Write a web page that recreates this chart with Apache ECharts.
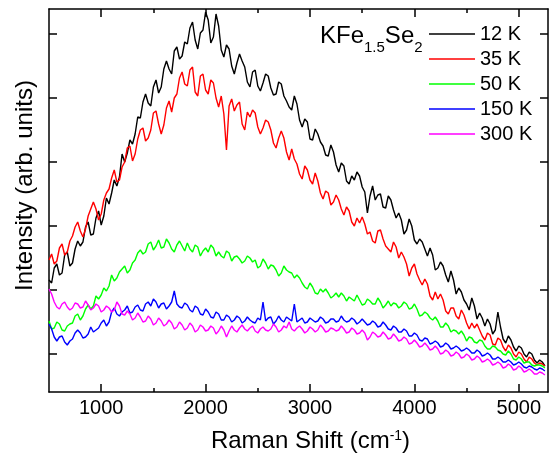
<!DOCTYPE html>
<html>
<head>
<meta charset="utf-8">
<script src="https://cdn.jsdelivr.net/npm/echarts@6/dist/echarts.min.js"></script>
<style>
  html, body { margin: 0; padding: 0; background: #fff; }
  #main { width: 550px; height: 453px; }
</style>
</head>
<body>
<div id="main"></div>
<script>
// Raman shift grid (cm-1)
const ramanShift = [
  500, 525, 550, 575, 600, 625, 650, 675, 700, 725,
  750, 775, 800, 825, 850, 875, 900, 925, 950, 975,
  1000, 1025, 1050, 1075, 1100, 1125, 1150, 1175, 1200, 1225,
  1250, 1275, 1300, 1325, 1350, 1375, 1400, 1425, 1450, 1475,
  1500, 1525, 1550, 1575, 1600, 1625, 1650, 1675, 1700, 1725,
  1750, 1775, 1800, 1825, 1850, 1875, 1900, 1925, 1950, 1975,
  2000, 2025, 2050, 2075, 2100, 2125, 2150, 2175, 2200, 2225,
  2250, 2275, 2300, 2325, 2350, 2375, 2400, 2425, 2450, 2475,
  2500, 2525, 2550, 2575, 2600, 2625, 2650, 2675, 2700, 2725,
  2750, 2775, 2800, 2825, 2850, 2875, 2900, 2925, 2950, 2975,
  3000, 3025, 3050, 3075, 3100, 3125, 3150, 3175, 3200, 3225,
  3250, 3275, 3300, 3325, 3350, 3375, 3400, 3425, 3450, 3475,
  3500, 3525, 3550, 3575, 3600, 3625, 3650, 3675, 3700, 3725,
  3750, 3775, 3800, 3825, 3850, 3875, 3900, 3925, 3950, 3975,
  4000, 4025, 4050, 4075, 4100, 4125, 4150, 4175, 4200, 4225,
  4250, 4275, 4300, 4325, 4350, 4375, 4400, 4425, 4450, 4475,
  4500, 4525, 4550, 4575, 4600, 4625, 4650, 4675, 4700, 4725,
  4750, 4775, 4800, 4825, 4850, 4875, 4900, 4925, 4950, 4975,
  5000, 5025, 5050, 5075, 5100, 5125, 5150, 5175, 5200, 5225,
  5250
];

// intensity (arb. units), one value per ramanShift entry
const k12 = [
  112, 109, 124, 128, 117, 119, 137, 140, 126, 129,
  143, 151, 146, 150, 165, 170, 157, 158, 174, 181,
  167, 176, 194, 188, 199, 212, 206, 215, 238, 230,
  239, 252, 248, 258, 275, 274, 290, 298, 289, 286,
  305, 312, 299, 305, 323, 331, 323, 318, 341, 345,
  333, 336, 350, 348, 364, 370, 352, 343, 359, 362,
  380, 372, 349, 355, 378, 366, 342, 335, 347, 343,
  326, 318, 329, 338, 331, 325, 310, 305, 320, 322,
  306, 301, 309, 318, 316, 304, 297, 298, 310, 308,
  296, 291, 285, 282, 296, 288, 272, 265, 273, 270,
  253, 252, 263, 258, 250, 246, 237, 236, 247, 240,
  227, 220, 229, 226, 211, 208, 216, 212, 220, 216,
  205, 200, 179, 196, 206, 192, 197, 198, 185, 184,
  196, 192, 182, 174, 179, 172, 158, 162, 173, 166,
  152, 148, 153, 150, 143, 136, 144, 137, 122, 124,
  130, 126, 117, 110, 121, 112, 98, 104, 100, 92,
  88, 82, 94, 86, 73, 79, 74, 66, 73, 68,
  58, 62, 80, 65, 53, 49, 56, 52, 45, 41,
  46, 44, 38, 35, 40, 38, 32, 29, 32, 30,
  26
];
const k35 = [
  132, 138, 128, 131, 144, 148, 137, 140, 151, 156,
  165, 170, 161, 155, 163, 176, 183, 190, 183, 172,
  178, 192, 199, 203, 214, 222, 210, 212, 225, 230,
  244, 246, 231, 238, 253, 262, 264, 251, 254, 262,
  279, 281, 268, 258, 267, 284, 291, 280, 294, 298,
  314, 320, 308, 306, 322, 325, 300, 296, 316, 318,
  302, 298, 312, 309, 294, 285, 296, 278, 242, 286,
  293, 281, 287, 290, 268, 262, 280, 275, 282, 279,
  265, 258, 264, 272, 270, 262, 249, 244, 254, 261,
  254, 240, 232, 243, 233, 228, 218, 213, 226, 222,
  212, 208, 219, 211, 199, 193, 201, 199, 187, 190,
  197, 192, 183, 177, 185, 181, 170, 166, 174, 169,
  175, 168, 158, 160, 151, 149, 161, 162, 153, 146,
  143, 140, 150, 145, 134, 140, 135, 128, 116, 124,
  128, 118, 112, 107, 113, 108, 96, 92, 100, 93,
  98, 92, 81, 78, 84, 84, 76, 73, 82, 77,
  69, 63, 69, 64, 68, 62, 56, 52, 59, 57,
  48, 47, 54, 52, 45, 41, 47, 44, 38, 35,
  40, 38, 33, 30, 35, 33, 29, 27, 29, 28,
  26
];
const k50 = [
  71, 63, 64, 70, 68, 62, 61, 66, 68, 69,
  76, 78, 72, 76, 83, 87, 83, 86, 96, 93,
  97, 104, 101, 106, 117, 111, 114, 120, 123, 126,
  119, 122, 129, 132, 139, 142, 138, 140, 148, 150,
  142, 146, 152, 144, 145, 153, 149, 143, 140, 147,
  151, 146, 141, 149, 143, 140, 147, 145, 136, 141,
  144, 140, 147, 144, 136, 140, 136, 134, 141, 139,
  131, 135, 136, 133, 129, 131, 136, 134, 130, 132,
  124, 126, 133, 129, 123, 127, 126, 122, 116, 119,
  126, 122, 120, 119, 114, 117, 114, 109, 105, 103,
  109, 105, 99, 98, 103, 100, 103, 99, 94, 96,
  99, 95, 99, 96, 91, 95, 93, 91, 97, 92,
  87, 88, 93, 91, 88, 88, 94, 90, 84, 87,
  91, 86, 89, 88, 84, 86, 90, 88, 83, 84,
  88, 83, 76, 77, 80, 78, 74, 72, 75, 71,
  65, 65, 69, 66, 60, 62, 61, 58, 61, 57,
  51, 55, 54, 50, 49, 52, 51, 46, 43, 43,
  46, 45, 42, 41, 38, 37, 41, 38, 33, 32,
  35, 33, 29, 30, 30, 27, 26, 27, 27, 26,
  24
];
const k150 = [
  68, 63, 55, 51, 55, 56, 50, 47, 51, 53,
  59, 62, 59, 54, 55, 58, 65, 60, 62, 64,
  69, 72, 66, 70, 80, 84, 78, 76, 80, 82,
  86, 79, 80, 85, 87, 82, 81, 88, 90, 86,
  93, 90, 84, 88, 89, 83, 86, 90, 101, 88,
  85, 84, 89, 87, 82, 80, 86, 84, 78, 77,
  83, 80, 75, 74, 80, 78, 72, 72, 77, 75,
  70, 72, 76, 74, 69, 71, 75, 72, 70, 69,
  74, 72, 90, 71, 74, 75, 68, 71, 76, 72,
  70, 75, 73, 71, 88, 70, 72, 74, 69, 70,
  74, 72, 70, 71, 75, 73, 69, 70, 73, 73,
  70, 71, 76, 72, 70, 71, 74, 72, 68, 70,
  73, 70, 67, 68, 71, 69, 65, 66, 70, 67,
  63, 62, 66, 64, 60, 60, 63, 61, 56, 56,
  59, 57, 52, 51, 54, 53, 48, 49, 51, 49,
  45, 46, 49, 47, 43, 44, 46, 44, 41, 42,
  44, 42, 39, 39, 42, 40, 36, 37, 39, 37,
  33, 33, 35, 33, 30, 30, 32, 30, 27, 28,
  30, 28, 25, 24, 26, 25, 23, 22, 24, 23,
  21
];
const k300 = [
  103, 98, 90, 85, 83, 88, 90, 85, 82, 84,
  89, 88, 84, 85, 91, 87, 82, 84, 88, 86,
  80, 82, 86, 84, 80, 82, 90, 86, 78, 77,
  81, 78, 72, 74, 79, 75, 70, 71, 76, 73,
  67, 69, 74, 71, 66, 68, 72, 69, 63, 65,
  70, 67, 62, 64, 69, 66, 60, 62, 67, 65,
  61, 62, 66, 64, 58, 61, 66, 62, 55, 61,
  66, 62, 60, 64, 67, 63, 61, 64, 66, 61,
  59, 63, 65, 62, 61, 63, 68, 65, 60, 62,
  66, 64, 70, 63, 61, 64, 66, 63, 59, 61,
  65, 63, 60, 62, 67, 64, 60, 61, 64, 63,
  61, 62, 66, 63, 59, 60, 64, 62, 58, 59,
  62, 59, 52, 55, 60, 58, 55, 56, 60, 57,
  53, 54, 58, 55, 51, 52, 55, 53, 48, 49,
  52, 49, 45, 46, 49, 46, 42, 43, 46, 43,
  38, 39, 42, 40, 36, 37, 40, 38, 34, 35,
  38, 36, 32, 33, 36, 34, 30, 31, 33, 31,
  27, 28, 30, 28, 24, 25, 28, 26, 22, 23,
  26, 24, 20, 21, 23, 21, 18, 18, 20, 19,
  17
];

const seriesNames = ["12 K", "35 K", "50 K", "150 K", "300 K"];
const seriesColors = ["#000000", "#ff0000", "#00ff00", "#0000ff", "#ff00ff"];
const seriesData = [k12, k35, k50, k150, k300];

const xMajorTicks = [1000, 2000, 3000, 4000, 5000];
const xMinorTicks = [1500, 2500, 3500, 4500];
const yTicks = [38, 102, 166, 230, 294, 358];

const font = "Liberation Sans, Arial, sans-serif";
const frame = { show: true, lineStyle: { color: "#000", width: 1.5 } };

function xAxisDef(position, ticks, len, showLine, withLabel) {
  return {
    type: "value",
    position: position,
    min: 500,
    max: 5280,
    axisLine: showLine ? frame : { show: false },
    axisTick: {
      show: true,
      inside: true,
      length: len,
      customValues: ticks,
      lineStyle: { color: "#000", width: 1.5 },
    },
    axisLabel: withLabel
      ? {
          show: true,
          customValues: ticks,
          color: "#000",
          fontSize: 20,
          fontFamily: font,
          margin: 6,
          formatter: function (v) { return String(v); },
        }
      : { show: false },
    splitLine: { show: false },
  };
}

function yAxisDef(position) {
  return {
    type: "value",
    position: position,
    min: 0,
    max: 383,
    axisLine: frame,
    axisTick: {
      show: true,
      inside: true,
      length: 8,
      customValues: yTicks,
      lineStyle: { color: "#000", width: 1.5 },
    },
    axisLabel: { show: false },
    splitLine: { show: false },
  };
}

const xBottom = xAxisDef("bottom", xMajorTicks, 8, true, true);
xBottom.name = "{a|Raman Shift (cm}{s|-1}{a|)}";
xBottom.nameLocation = "middle";
xBottom.nameGap = 37;
xBottom.nameTextStyle = {
  padding: [0, 0, 0, 24],
  rich: {
    a: { fontSize: 24, lineHeight: 24, fontFamily: font, color: "#000", verticalAlign: "top" },
    s: { fontSize: 14, lineHeight: 14, fontFamily: font, color: "#000", verticalAlign: "top" },
  },
};

const yLeft = yAxisDef("left");
yLeft.name = "Intensity (arb. units)";
yLeft.nameLocation = "middle";
yLeft.nameGap = 12;
yLeft.nameTextStyle = { fontSize: 24, fontFamily: font, color: "#000", padding: [0, 0, 0, 30] };

const option = {
  animation: false,
  backgroundColor: "#fff",
  title: {
    text: "{a|KFe}{b|1.5}{a|Se}{b|2}",
    left: 320,
    top: 24,
    padding: 0,
    textStyle: {
      fontWeight: "normal",
      rich: {
        a: { fontSize: 24, lineHeight: 24, fontFamily: font, fontWeight: "normal", color: "#000", verticalAlign: "top" },
        b: { fontSize: 15, lineHeight: 15, fontFamily: font, fontWeight: "normal", color: "#000", verticalAlign: "top", padding: [16, 0, 0, 0] },
      },
    },
  },
  legend: {
    orient: "vertical",
    left: 429,
    top: 24,
    padding: 0,
    icon: "rect",
    itemWidth: 46,
    itemHeight: 1.5,
    itemGap: 5,
    data: seriesNames,
    textStyle: { fontSize: 20, lineHeight: 20, fontFamily: font, color: "#000" },
  },
  grid: { left: 49, top: 9, width: 499, height: 383, outerBoundsMode: "none", containLabel: false },
  xAxis: [
    xBottom,
    xAxisDef("bottom", xMinorTicks, 4, false, false),
    xAxisDef("top", xMajorTicks, 8, true, false),
    xAxisDef("top", xMinorTicks, 4, false, false),
  ],
  yAxis: [yLeft, yAxisDef("right")],
  series: seriesNames.map(function (name, i) {
    return {
      name: name,
      type: "line",
      xAxisIndex: 0,
      yAxisIndex: 0,
      symbol: "none",
      color: seriesColors[i],
      lineStyle: { width: 1.4, color: seriesColors[i] },
      data: ramanShift.map(function (x, j) {
        return [x, seriesData[i][j]];
      }),
    };
  }),
};

const myChart = echarts.init(document.getElementById("main"));
myChart.setOption(option);
</script>
</body>
</html>
